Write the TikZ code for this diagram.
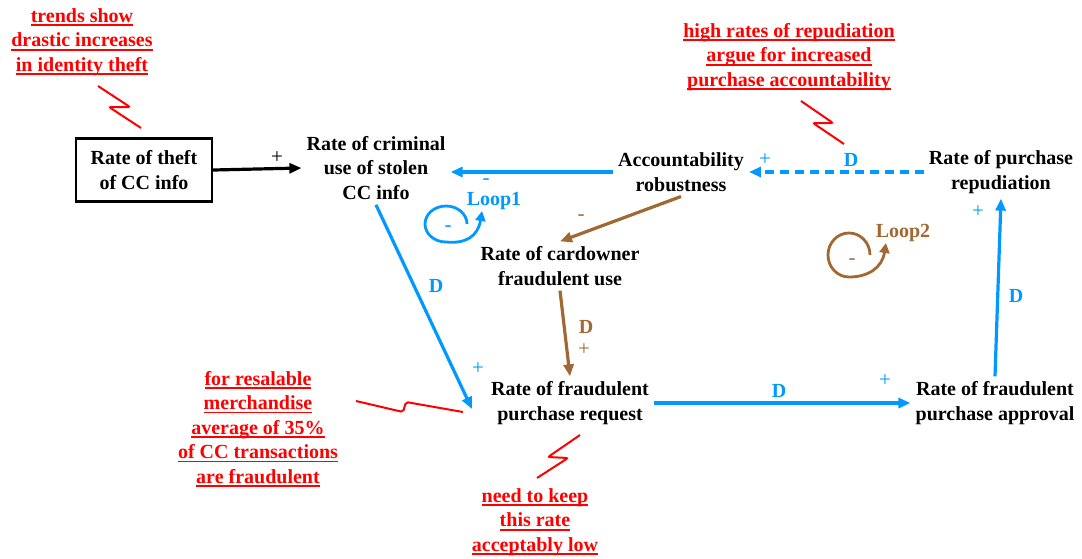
\documentclass[tikz,border=0pt]{standalone}
\usepackage{fontspec}
\setmainfont{Liberation Serif}
\usetikzlibrary{arrows.meta}
\definecolor{cblue}{RGB}{0,153,255}
\definecolor{cbrown}{RGB}{160,105,50}
\newcommand\ulx[1]{\setbox0\hbox{#1}\rlap{\rule[-3.8pt]{\wd0}{1.7pt}}\box0}
\begin{document}
\begin{tikzpicture}[x=1pt,y=-1pt,
  every node/.style={font=\bfseries\fontsize{20}{24.5}\selectfont, align=center},
  var/.style={inner sep=5pt},
  note/.style={text=red, inner sep=0pt},
  lbl/.style={inner sep=0pt},
  sgn/.style={inner sep=0pt, font=\fontsize{21}{21}\selectfont},
  ar/.style={line width=3.2pt, -{Triangle[length=12pt,width=10pt]}},
  loopar/.style={line width=2.8pt, -{Triangle[length=10pt,width=10pt]}},
  zz/.style={red, line width=2pt, rounded corners=2pt}]
\useasboundingbox (0,0) rectangle (1082,558);

% variables
\node[draw, line width=2.2pt, minimum width=136pt, minimum height=63pt, inner sep=0pt] (theft) at (144,170) {Rate of theft\\of CC info};
\node[var] (crim) at (376,168) {Rate of criminal\\use of stolen\\CC info};
\node[var] (acc) at (681,172) {Accountability\\robustness};
\node[var] (rep) at (1001,172) {Rate of purchase\\repudiation};
\node[var] (card) at (560,266) {Rate of cardowner\\fraudulent use};
\node[var] (req) at (570,403) {Rate of fraudulent\\purchase request};
\node[var] (appr) at (995,403) {Rate of fraudulent\\purchase approval};

% notes
\node[note] (n1) at (82,42) {\ulx{trends show}\\\ulx{drastic increases}\\\ulx{in identity theft}};
\node[note] (n2) at (789,57) {\ulx{high rates of repudiation}\\\ulx{argue for increased}\\\ulx{purchase accountability}};
\node[note] (n3) at (258,429) {\ulx{for resalable}\\\ulx{merchandise}\\\ulx{average of 35\%}\\\ulx{of CC transactions}\\\ulx{are fraudulent}};
\node[note] (n4) at (535,522) {\ulx{need to keep}\\\ulx{this rate}\\\ulx{acceptably low}};

% squiggles
\draw[zz] (98,86) -- (130,107) -- (109,107) -- (141,128);
\draw[zz] (801,101) -- (833,123) -- (813,123) -- (844,144);
\draw[zz] (356,401) -- (403,412) -- (406,402) -- (463,412);
\draw[zz] (580,435) -- (548,457) -- (568,458) -- (537,478);

% connectors
\draw[ar, black] (theft.east) -- (crim.west);
\draw[ar, cblue] (acc.west) -- (crim.east |- acc.west);
\draw[ar, cbrown] (acc.south) -- (card.north);
\draw[ar, cblue, dashed, dash pattern=on 9pt off 6pt] (rep.west) -- (acc.east);
\draw[ar, cblue] (crim.south) -- ([xshift=-14pt,yshift=-6pt]req.west);
\draw[ar, cbrown] (card.south) -- (req.north);
\draw[ar, cblue] (req.east) -- (appr.west);
\draw[ar, cblue] (appr.north) -- (rep.south);

% loops
\coordinate (l1s) at (467,224);
\coordinate (l1e) at (482,211);
\draw[loopar, cblue] (l1s) arc[start angle=0, end angle=-270, x radius=21, y radius=18] .. controls (466,244) and (478,236) .. (l1e);
\coordinate (l2s) at (870,255);
\coordinate (l2e) at (886,243);
\draw[loopar, cbrown] (l2s) arc[start angle=0, end angle=-270, x radius=21, y radius=22] .. controls (868,277) and (882,268) .. (l2e);

% labels
\node[sgn] (s1) at (277,158) {+};
\node[sgn, text=cblue] (s2) at (486,182) {-};
\node[lbl, text=cblue] (loop1) at (494,201) {Loop1};
\node[sgn, text=cblue] (s3) at (448,229) {-};
\node[sgn, text=cbrown] (s4) at (581,218) {-};
\node[sgn, text=cblue] (s5) at (765,160) {+};
\node[lbl, text=cblue] (d1) at (851,160) {D};
\node[lbl, text=cblue] (d2) at (436,286) {D};
\node[sgn, text=cblue] (s6) at (478,369) {+};
\node[lbl, text=cbrown] (d3) at (586,327) {D};
\node[sgn, text=cbrown] (s7) at (584,350) {+};
\node[lbl, text=cblue] (d4) at (779,391) {D};
\node[sgn, text=cblue] (s8) at (885,381) {+};
\node[lbl, text=cblue] (d5) at (1016,296) {D};
\node[sgn, text=cblue] (s9) at (978,212) {+};
\node[lbl, text=cbrown] (loop2) at (903,233) {Loop2};
\node[sgn, text=cbrown] (s10) at (852,262) {-};
\end{tikzpicture}
\end{document}
